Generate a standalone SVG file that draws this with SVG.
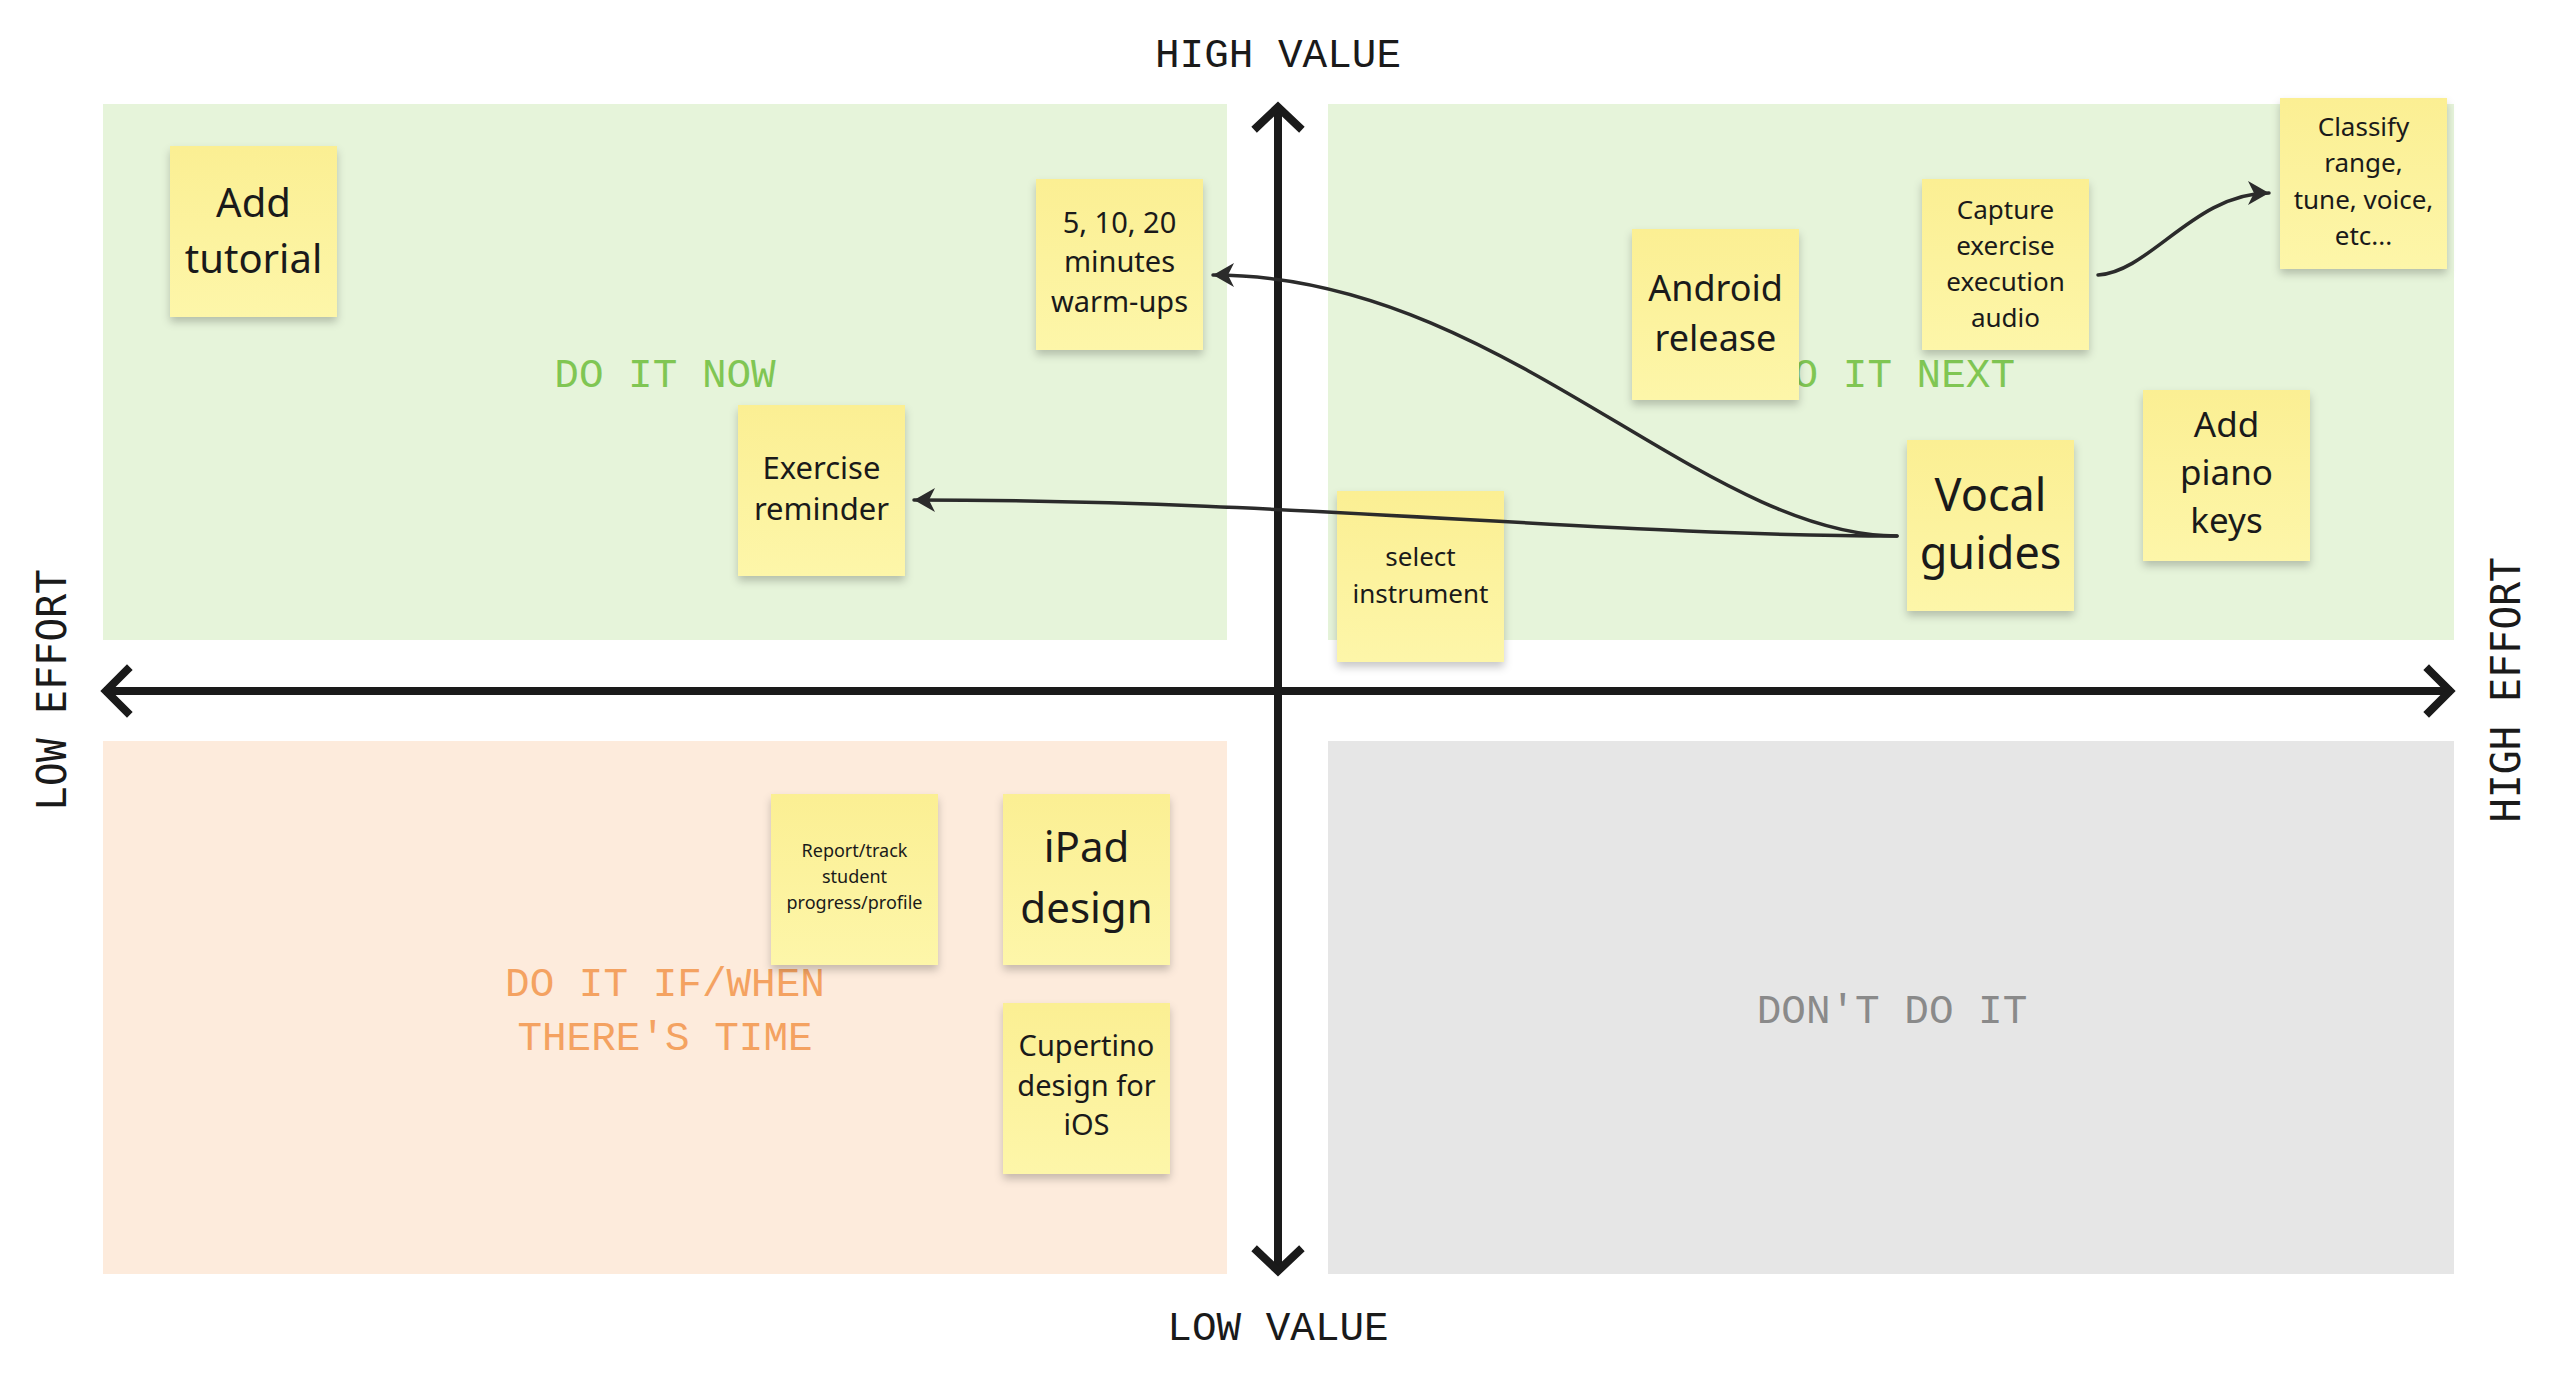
<svg xmlns="http://www.w3.org/2000/svg" width="2560" height="1385" viewBox="0 0 2560 1385">
  <defs>
    <linearGradient id="stickyFill" x1="0" y1="0" x2="0" y2="1">
      <stop offset="0" stop-color="#fbef93"/>
      <stop offset="1" stop-color="#fdf6a9"/>
    </linearGradient>
    <filter id="stickyShadow" x="-10%" y="-10%" width="120%" height="125%">
      <feDropShadow dx="0" dy="5" stdDeviation="4" flood-color="#000" flood-opacity="0.22"/>
    </filter>
    <marker id="arrowFill" markerUnits="userSpaceOnUse" markerWidth="26" markerHeight="28" viewBox="-23 -14 26 28" refX="0" refY="0" orient="auto">
      <path d="M0,0 L-21,-12 L-15,0 L-21,12 Z" fill="#2b2b2b"/>
    </marker>
  </defs>
  <style>
    .axis { stroke: #1a1a1a; stroke-width: 8; fill: none; stroke-linecap: square; stroke-linejoin: miter; }
    .axisLabel { font-family: "Liberation Mono", "DejaVu Sans Mono", monospace; font-size: 41px; fill: #1a1a1a; text-anchor: middle; }
    .axisLabelV { font-family: "DejaVu Sans Mono", "Liberation Mono", monospace; font-size: 40px; fill: #1a1a1a; text-anchor: middle; }
    .qLabel { font-family: "Liberation Mono", "DejaVu Sans Mono", monospace; font-size: 41px; text-anchor: middle; }
    .sticky rect { fill: url(#stickyFill); filter: url(#stickyShadow); }
    .sticky text { font-family: "Noto Sans", "Open Sans", sans-serif; fill: #1a1a1a; text-anchor: middle; }
    .conn { stroke: #2b2b2b; stroke-width: 3.5; fill: none; stroke-linecap: round; marker-end: url(#arrowFill); }
  </style>
  <rect width="2560" height="1385" fill="#ffffff"/>

  <!-- Quadrants -->
  <g id="quadrant-do-it-now">
    <rect x="103" y="104" width="1124" height="536" fill="#e6f4da"/>
    <text class="qLabel" x="665" y="387" fill="#80c653">DO IT NOW</text>
  </g>
  <g id="quadrant-do-it-next">
    <rect x="1328" y="104" width="1126" height="536" fill="#e6f4da"/>
    <text class="qLabel" x="1892" y="387" fill="#80c653">DO IT NEXT</text>
  </g>
  <g id="quadrant-if-time">
    <rect x="103" y="741" width="1124" height="533" fill="#fdebdc"/>
    <text class="qLabel" x="665" y="996" fill="#f4a261">DO IT IF/WHEN</text>
    <text class="qLabel" x="665" y="1050" fill="#f4a261">THERE'S TIME</text>
  </g>
  <g id="quadrant-dont">
    <rect x="1328" y="741" width="1126" height="533" fill="#e6e6e6"/>
    <text class="qLabel" x="1892" y="1023" fill="#8a8a8a">DON'T DO IT</text>
  </g>

  <!-- Axes -->
  <g id="axes">
    <line class="axis" x1="108" y1="691" x2="2448" y2="691"/>
    <line class="axis" x1="1278" y1="110" x2="1278" y2="1268"/>
    <polyline class="axis" points="127,670 106,691 127,712"/>
    <polyline class="axis" points="2429,670 2450,691 2429,712"/>
    <polyline class="axis" points="1257,127 1278,107 1299,127"/>
    <polyline class="axis" points="1257,1251 1278,1271 1299,1251"/>
  </g>
  <g id="axis-labels">
    <text class="axisLabel" x="1278" y="67">HIGH VALUE</text>
    <text class="axisLabel" x="1278" y="1340">LOW VALUE</text>
    <text class="axisLabelV" transform="translate(66 690) rotate(-90)">LOW EFFORT</text>
    <text class="axisLabelV" transform="translate(2520 690) rotate(-90)">HIGH EFFORT</text>
  </g>

  <!-- Sticky notes -->
  <g id="sticky-add-tutorial" class="sticky">
    <rect x="170" y="146" width="167" height="171"/>
    <text font-size="40"><tspan x="253.5" y="217">Add</tspan><tspan x="253.5" y="273">tutorial</tspan></text>
  </g>
  <g id="sticky-warm-ups" class="sticky">
    <rect x="1036" y="179" width="167" height="171"/>
    <text font-size="29"><tspan x="1119.5" y="233">5, 10, 20</tspan><tspan x="1119.5" y="272">minutes</tspan><tspan x="1119.5" y="312">warm-ups</tspan></text>
  </g>
  <g id="sticky-exercise-reminder" class="sticky">
    <rect x="738" y="405" width="167" height="171"/>
    <text font-size="31"><tspan x="821.5" y="479">Exercise</tspan><tspan x="821.5" y="520">reminder</tspan></text>
  </g>
  <g id="sticky-android-release" class="sticky">
    <rect x="1632" y="229" width="167" height="171"/>
    <text font-size="36"><tspan x="1715.5" y="301">Android</tspan><tspan x="1715.5" y="351">release</tspan></text>
  </g>
  <g id="sticky-capture-audio" class="sticky">
    <rect x="1922" y="179" width="167" height="171"/>
    <text font-size="26"><tspan x="2005.5" y="219">Capture</tspan><tspan x="2005.5" y="255">exercise</tspan><tspan x="2005.5" y="291">execution</tspan><tspan x="2005.5" y="327">audio</tspan></text>
  </g>
  <g id="sticky-classify" class="sticky">
    <rect x="2280" y="98" width="167" height="171"/>
    <text font-size="26"><tspan x="2363.5" y="136">Classify</tspan><tspan x="2363.5" y="172">range,</tspan><tspan x="2363.5" y="209">tune, voice,</tspan><tspan x="2363.5" y="245">etc...</tspan></text>
  </g>
  <g id="sticky-vocal-guides" class="sticky">
    <rect x="1907" y="440" width="167" height="171"/>
    <text font-size="45"><tspan x="1990.5" y="511">Vocal</tspan><tspan x="1990.5" y="569">guides</tspan></text>
  </g>
  <g id="sticky-piano-keys" class="sticky">
    <rect x="2143" y="390" width="167" height="171"/>
    <text font-size="35"><tspan x="2226.5" y="437">Add</tspan><tspan x="2226.5" y="485">piano</tspan><tspan x="2226.5" y="533">keys</tspan></text>
  </g>
  <g id="sticky-select-instrument" class="sticky">
    <rect x="1337" y="491" width="167" height="171"/>
    <text font-size="26"><tspan x="1420.5" y="566">select</tspan><tspan x="1420.5" y="603">instrument</tspan></text>
  </g>
  <g id="sticky-report-progress" class="sticky">
    <rect x="771" y="794" width="167" height="171"/>
    <text font-size="18"><tspan x="854.5" y="857">Report/track</tspan><tspan x="854.5" y="883">student</tspan><tspan x="854.5" y="909">progress/profile</tspan></text>
  </g>
  <g id="sticky-ipad-design" class="sticky">
    <rect x="1003" y="794" width="167" height="171"/>
    <text font-size="42"><tspan x="1086.5" y="862">iPad</tspan><tspan x="1086.5" y="923">design</tspan></text>
  </g>
  <g id="sticky-cupertino" class="sticky">
    <rect x="1003" y="1003" width="167" height="171"/>
    <text font-size="29"><tspan x="1086.5" y="1056">Cupertino</tspan><tspan x="1086.5" y="1096">design for</tspan><tspan x="1086.5" y="1135">iOS</tspan></text>
  </g>

  <!-- Connectors -->
  <g id="connectors">
    <path class="conn" d="M1897,536 C1700,536 1500,275 1213,275"/>
    <path class="conn" d="M1897,536 C1600,536 1300,500 914,500"/>
    <path class="conn" d="M2098,275 C2150,272 2195,193 2269,193"/>
  </g>
</svg>
